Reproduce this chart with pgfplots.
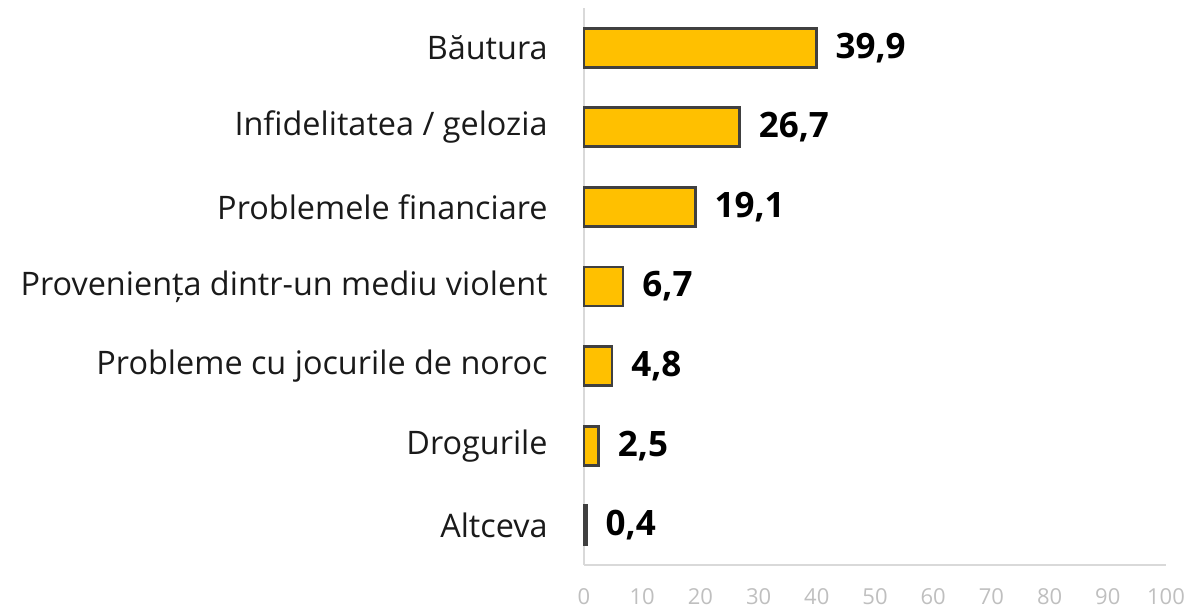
\documentclass[border=0pt]{standalone}
\usepackage{fontspec}
\setmainfont{Open Sans}
\usepackage{pgfplots}
\pgfplotsset{compat=1.18}
\definecolor{barfill}{HTML}{FFC000}
\definecolor{barline}{HTML}{404040}
\definecolor{axisgray}{HTML}{D9D9D9}
\definecolor{ticklab}{HTML}{BFBFBF}
\definecolor{labtext}{HTML}{1A1A1A}
\begin{document}
\begin{tikzpicture}
\begin{axis}[
  scale only axis,
  width=291bp, height=278.5bp,
  xbar, bar width=19.5bp,
  xmin=0, xmax=100,
  ymin=-0.5, ymax=6.5,
  xtick={0,10,...,100},
  ytick={0,1,2,3,4,5,6},
  yticklabels={Altceva,Drogurile,Probleme cu jocurile de noroc,Provenienț\kern0pta dintr-un mediu violent,Problemele financiare,Infidelitatea / gelozia,Băutura},
  /pgf/number format/assume math mode=true,
  major tick length=0pt,
  axis x line*=bottom, axis y line*=left,
  axis line style={draw=axisgray, line width=0.8bp, -},
  x tick label style={font=\fontsize{11bp}{13bp}\selectfont, text=ticklab, anchor=center, inner sep=0pt, yshift=-16bp},
  y tick label style={font=\fontsize{16.2bp}{19bp}\selectfont, text=labtext, anchor=east, inner sep=0pt, xshift=-18bp},
  point meta=explicit symbolic,
  nodes near coords,
  nodes near coords style={font=\bfseries\fontsize{17.5bp}{20bp}\selectfont, text=black, anchor=west, inner sep=0pt, xshift=9bp},
  clip=false,
]
\addplot[fill=barfill, draw=barline, line width=1.4bp] coordinates {
  (0.4,0) [0,4]
  (2.5,1) [2,5]
  (4.8,2) [4,8]
  (6.7,3) [6,7]
  (19.1,4) [19,1]
  (26.7,5) [26,7]
  (39.9,6) [39,9]
};
\end{axis}
\pgfresetboundingbox
\path ([shift={(-292bp,-23.5bp)}]current axis.south west) rectangle ([shift={(12bp,4bp)}]current axis.north east);
\end{tikzpicture}
\end{document}
